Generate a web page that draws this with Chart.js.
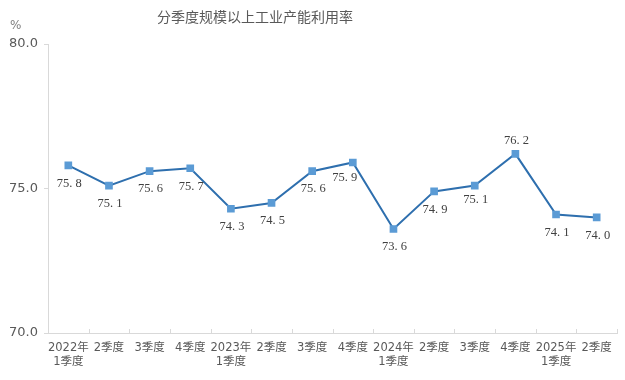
<!DOCTYPE html>
<html><head><meta charset="utf-8">
<script src="https://cdn.jsdelivr.net/npm/chart.js@4/dist/chart.umd.min.js"></script>
<style>html,body{margin:0;padding:0;background:#fff}#wrap{width:625px;height:380px}</style>
</head><body><div id="wrap"><canvas id="c" width="625" height="380"></canvas></div>
<script>
const categories = [["2022年","1季度"],"2季度","3季度","4季度",["2023年","1季度"],"2季度","3季度","4季度",["2024年","1季度"],"2季度","3季度","4季度",["2025年","1季度"],"2季度"];
const utilization = [75.8,75.1,75.6,75.7,74.3,74.5,75.6,75.9,73.6,74.9,75.1,76.2,74.1,74.0];
const yTicks = [70,75,80];
const titleText = "分季度规模以上工业产能利用率";
const unitText = "%";

const sansFont = "'DejaVu Sans','Noto Sans CJK SC',sans-serif";

// label placement tweaks (style only)
const labelShift = { 7: [-9, 15], 10: [0, 14], 11: [0, -13] };

const labelPlugin = {
  id: 'valueLabels',
  afterDatasetsDraw(chart) {
    const ctx = chart.ctx;
    const meta = chart.getDatasetMeta(0);
    ctx.save();
    ctx.font = "12.5px 'Liberation Serif','DejaVu Serif',serif";
    ctx.fillStyle = '#404040';
    ctx.textAlign = 'center';
    ctx.textBaseline = 'middle';
    meta.data.forEach((pt, i) => {
      const v = utilization[i];
      const [dx, dy] = labelShift[i] || [0, 18];
      const txt = v.toFixed(1).replace('.', '. ');
      ctx.fillText(txt, pt.x + dx + 1, pt.y + dy);
    });
    ctx.restore();
  }
};

const extrasPlugin = {
  id: 'extras',
  afterDraw(chart) {
    const ctx = chart.ctx;
    const x = chart.scales.x, y = chart.scales.y;
    ctx.save();
    ctx.strokeStyle = '#d9d9d9';
    ctx.lineWidth = 1;
    const n = categories.length;
    const step = (x.right - x.left) / n;
    for (let i = 1; i <= n; i++) {
      const px = Math.round(x.getPixelForValue(i - 1) + step / 2) + 0.5;
      ctx.beginPath();
      ctx.moveTo(px, y.bottom);
      ctx.lineTo(px, y.bottom - 4);
      ctx.stroke();
    }
    ctx.fillStyle = '#7f7f7f';
    ctx.font = "12px " + sansFont;
    ctx.textAlign = 'left';
    ctx.textBaseline = 'middle';
    ctx.fillText(unitText, 10, y.top - 18);
    ctx.fillStyle = '#595959';
    ctx.font = "14px 'Noto Sans CJK SC',sans-serif";
    ctx.textAlign = 'center';
    ctx.fillText(titleText, 255, 17);
    ctx.restore();
  }
};

new Chart(document.getElementById('c'), {
  type: 'line',
  data: {
    labels: categories,
    datasets: [{
      data: utilization,
      borderColor: '#2e6fae',
      borderWidth: 2,
      backgroundColor: '#5b9bd5',
      pointBackgroundColor: '#5b9bd5',
      pointBorderColor: '#5b9bd5',
      pointStyle: 'rect',
      pointRadius: 4,
      tension: 0,
      fill: false
    }]
  },
  options: {
    responsive: false,
    animation: false,
    devicePixelRatio: 1,
    layout: { padding: { left: 0, right: 8, top: 44, bottom: 0 } },
    plugins: {
      legend: { display: false },
      tooltip: { enabled: false },
      title: { display: false }
    },
    scales: {
      x: {
        offset: true,
        grid: { display: false, drawTicks: false },
        border: { display: true, color: '#d9d9d9', width: 1 },
        ticks: {
          color: '#595959',
          font: { family: sansFont, size: 11.5 },
          padding: 8,
          maxRotation: 0,
          autoSkip: false
        },
        afterFit(s) { s.height = 47; }
      },
      y: {
        min: 70, max: 80,
        afterBuildTicks(s) { s.ticks = yTicks.map(v => ({ value: v })); },
        grid: { drawOnChartArea: false, drawTicks: true, tickLength: 4, color: '#d9d9d9' },
        border: { display: true, color: '#d9d9d9', width: 1 },
        ticks: {
          color: '#595959',
          font: { family: sansFont, size: 13 },
          padding: 6,
          callback: v => v.toFixed(1)
        },
        afterFit(s) { s.width = 48; }
      }
    }
  },
  plugins: [labelPlugin, extrasPlugin]
});
</script>
</body></html>
